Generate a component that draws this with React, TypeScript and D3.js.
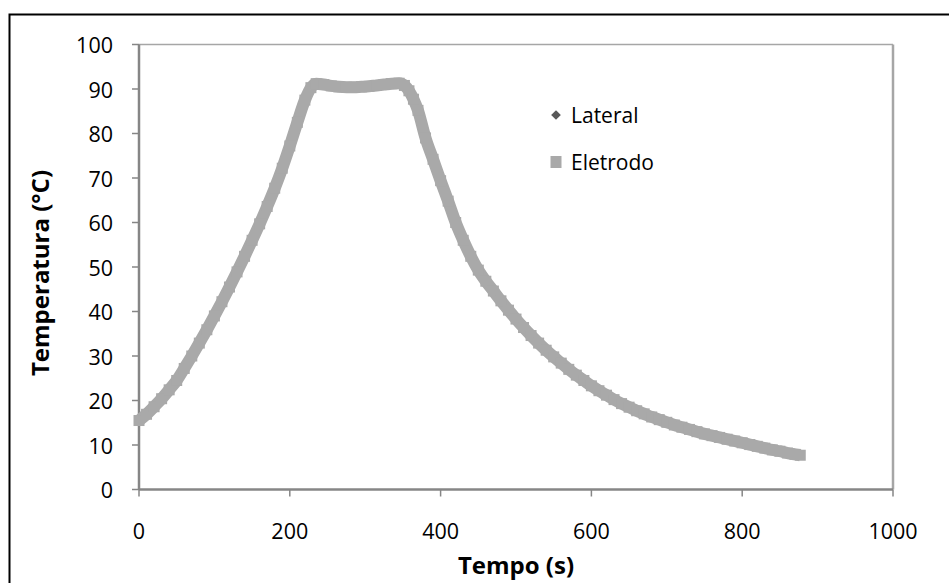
import React from "react";
import * as d3 from "d3";

const tempo = [0,10,20,30,40,50,60,70,80,90,100,110,120,130,140,150,160,170,180,190,200,210,220,228,235,245,255,265,275,285,295,305,315,325,335,345,352,358,364,370,380,390,400,410,420,430,440,450,460,470,480,490,500,510,520,530,540,550,560,570,580,590,600,610,620,630,640,650,660,670,680,690,700,710,720,730,740,750,760,770,780,790,800,810,820,830,840,850,860,870,877];
const eletrodo = [15.5,16.9,18.6,20.4,22.4,24.5,27.2,30.0,32.9,35.9,39.0,42.2,45.5,48.9,52.4,56.0,59.7,63.6,67.7,72.2,77.2,82.5,87.5,90.3,91.2,91.0,90.7,90.5,90.4,90.4,90.5,90.6,90.8,91.0,91.2,91.3,90.8,89.6,87.7,85.2,79.0,74.2,69.4,64.8,60.0,56.0,52.4,49.3,46.8,44.6,42.4,40.3,38.3,36.4,34.6,32.9,31.3,29.8,28.4,27.0,25.7,24.5,23.3,22.2,21.2,20.2,19.3,18.5,17.7,17.0,16.3,15.7,15.1,14.5,14.0,13.5,13.0,12.5,12.1,11.7,11.3,10.9,10.5,10.1,9.7,9.3,8.9,8.6,8.2,7.9,7.7];
const xTicks = [0,200,400,600,800,1000];
const yTicks = [0,10,20,30,40,50,60,70,80,90,100];
const seriesNames = ["Lateral","Eletrodo"];

const FONT = "'Open Sans', Lato, sans-serif";

export default function App() {
  const W = 949, H = 583;
  const left = 139, right = 893, top = 44.5, bottom = 489.5;
  const x = d3.scaleLinear().domain([0, 1000]).range([left, right]);
  const y = d3.scaleLinear().domain([0, 100]).range([bottom, top]);
  const pts = tempo.map((t, i) => [t, eletrodo[i]] as [number, number]);
  const line = d3.line<[number, number]>().x(d => x(d[0])).y(d => y(d[1])).curve(d3.curveMonotoneX);
  const ms = 11;
  const gray = "#a9a9a9";
  const axisColor = "#868686";
  return (
    <svg width={W} height={H} style={{ position: "absolute", left: 0, top: 0, background: "#fff" }}>
      <rect x={0} y={0} width={W} height={H} fill="#fff" />
      <rect x={9.5} y={14.5} width={980} height={620} fill="none" stroke="#000" strokeWidth={2} />
      {/* plot area border */}
      <line x1={left} x2={right} y1={top} y2={top} stroke="#a6a6a6" strokeWidth={1.5} />
      <line x1={right} x2={right} y1={top} y2={bottom} stroke="#a6a6a6" strokeWidth={2.5} />
      {/* axes */}
      <line x1={left} x2={left} y1={top} y2={bottom} stroke={axisColor} strokeWidth={2.5} />
      <line x1={left} x2={right} y1={bottom} y2={bottom} stroke={axisColor} strokeWidth={2.5} />
      {yTicks.map(v => (
        <g key={"y" + v}>
          <line x1={left - 7} x2={left} y1={y(v)} y2={y(v)} stroke={axisColor} strokeWidth={1.5} />
          <text x={113} y={y(v) + 8.5} textAnchor="end" fontFamily={FONT} fontSize={21.5} fill="#000">{v}</text>
        </g>
      ))}
      {xTicks.map(v => (
        <g key={"x" + v}>
          <line x1={x(v)} x2={x(v)} y1={bottom} y2={bottom + 7} stroke={axisColor} strokeWidth={1.5} />
          <text x={x(v)} y={539} textAnchor="middle" fontFamily={FONT} fontSize={21.5} fill="#000">{v}</text>
        </g>
      ))}
      {/* data */}
      <path d={line(pts) || ""} fill="none" stroke={gray} strokeWidth={12} strokeLinejoin="round" />
      {pts.map((d, i) => (
        <rect key={i} x={x(d[0]) - ms / 2} y={y(d[1]) - ms / 2} width={ms} height={ms} fill={gray} />
      ))}
      {/* titles */}
      <text x={(left + right) / 2} y={574} textAnchor="middle" fontFamily={FONT} fontWeight="bold" fontSize={24} fill="#000">Tempo (s)</text>
      <text transform={`translate(49,${(top + bottom) / 2 + 6}) rotate(-90)`} textAnchor="middle" fontFamily={FONT} fontWeight="bold" fontSize={24} fill="#000">Temperatura (°C)</text>
      {/* legend */}
      <path d={d3.symbol().type(d3.symbolDiamond2).size(60)() || ""} transform="translate(556,115)" fill="#595959" />
      <text x={571} y={123} fontFamily={FONT} fontSize={21} fill="#000">{seriesNames[0]}</text>
      <rect x={550.5} y={156} width={11} height={12} fill={gray} />
      <text x={571} y={170} fontFamily={FONT} fontSize={21} fill="#000">{seriesNames[1]}</text>
    </svg>
  );
}
